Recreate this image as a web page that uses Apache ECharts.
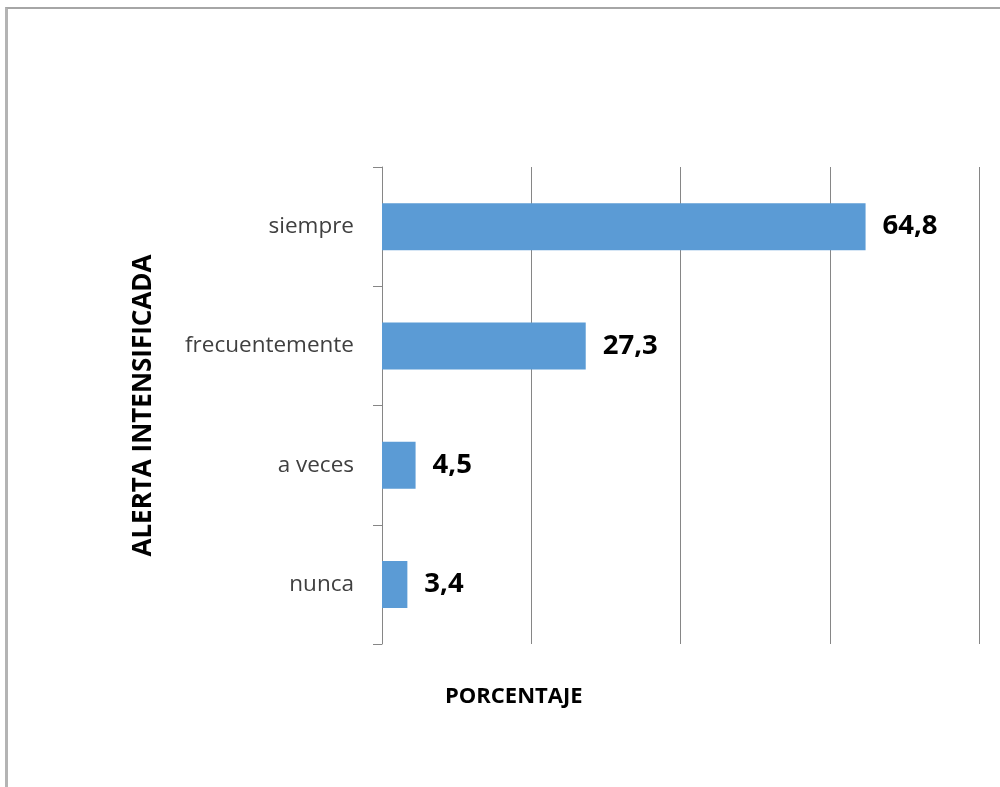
<!DOCTYPE html>
<html>
<head>
<meta charset="utf-8">
<script src="https://cdn.jsdelivr.net/npm/echarts@6/dist/echarts.min.js"></script>
<style>
  html, body { margin: 0; padding: 0; background: #fff; }
  #frame {
    position: absolute; left: 5px; top: 7px; width: 995px; height: 780px;
    border-top: 2px solid #a6a6a6; border-left: 3px solid #b4b4b4;
    box-sizing: border-box;
  }
  #chart { position: absolute; left: 0; top: 0; width: 1000px; height: 787px; }
</style>
</head>
<body>
<div id="frame"></div>
<div id="chart"></div>
<script>
// Frecuencia de alerta intensificada (porcentaje)
const categories = ['siempre', 'frecuentemente', 'a veces', 'nunca'];
const porcentajes = [64.8, 27.3, 4.5, 3.4];
const xTicks = [0, 20, 40, 60, 80];

const chart = echarts.init(document.getElementById('chart'), null, { renderer: 'canvas' });

chart.setOption({
  animation: false,
  backgroundColor: 'transparent',
  title: {
    text: 'PORCENTAJE',
    left: 440,
    top: 681,
    textStyle: { fontFamily: 'Open Sans', fontWeight: 'bold', fontSize: 22, color: '#000' }
  },
  grid: { left: 382, right: 21, top: 167, bottom: 143, containLabel: false },
  xAxis: {
    type: 'value',
    min: xTicks[0],
    max: xTicks[xTicks.length - 1],
    interval: xTicks[1] - xTicks[0],
    axisLine: { show: false },
    axisTick: { show: false },
    axisLabel: { show: false },
    splitLine: { show: true, lineStyle: { color: '#868686', width: 1 } }
  },
  yAxis: {
    type: 'category',
    data: categories,
    inverse: true,
    name: 'ALERTA INTENSIFICADA',
    nameLocation: 'middle',
    nameRotate: 90,
    nameGap: 225,
    nameTextStyle: { fontFamily: 'Open Sans', fontWeight: 'bold', fontSize: 26, color: '#000' },
    axisLine: { show: true, lineStyle: { color: '#868686', width: 1 } },
    axisTick: { show: true, length: 9, alignWithLabel: false, lineStyle: { color: '#868686' } },
    axisLabel: { margin: 28, fontFamily: 'Open Sans', fontSize: 22.5, color: '#404040' },
    splitLine: { show: false }
  },
  series: [{
    type: 'bar',
    data: porcentajes,
    barWidth: 47,
    itemStyle: { color: '#5b9bd5' },
    label: {
      show: true,
      position: 'right',
      distance: 17,
      fontFamily: 'Open Sans',
      fontWeight: 'bold',
      fontSize: 27.5,
      color: '#000',
      formatter: p => String(p.value).replace('.', ',')
    }
  }]
});
</script>
</body>
</html>
